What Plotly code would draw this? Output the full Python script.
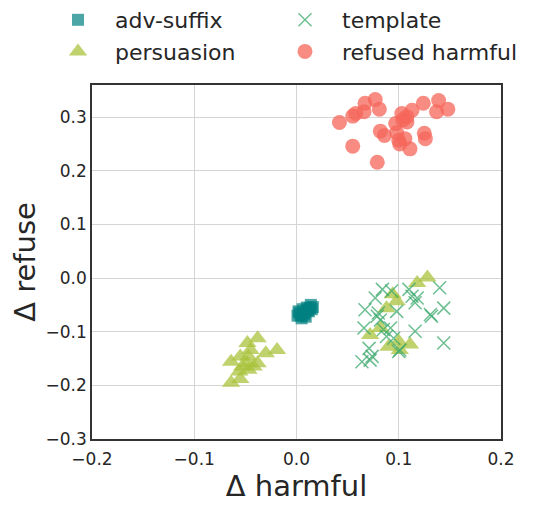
import plotly.graph_objects as go

# values
adv_suffix_x = [0.002, 0.004, 0.006, 0.008, 0.010, 0.012, 0.014, 0.016, 0.005,
                0.009, 0.011, 0.003, 0.015, 0.007, 0.013, 0.001]
adv_suffix_y = [-0.062, -0.070, -0.058, -0.066, -0.055, -0.062, -0.050, -0.054,
                -0.075, -0.072, -0.060, -0.065, -0.058, -0.068, -0.056, -0.070]

persuasion_x = [-0.038, -0.048, -0.019, -0.030, -0.045, -0.055, -0.064, -0.047,
                -0.038, -0.048, -0.053, -0.056, -0.047, -0.055, -0.064, -0.042,
                0.128, 0.118, 0.098, 0.088, 0.082, 0.072, 0.090, 0.100, 0.111,
                0.101, 0.094]
persuasion_y = [-0.112, -0.121, -0.134, -0.140, -0.134, -0.146, -0.156, -0.146,
                -0.159, -0.159, -0.165, -0.174, -0.171, -0.188, -0.195, -0.165,
                0.001, -0.009, -0.043, -0.056, -0.093, -0.106, -0.128, -0.118,
                -0.124, -0.134, -0.030]

template_x = [0.084, 0.093, 0.077, 0.067, 0.079, 0.082, 0.066, 0.092, 0.088,
              0.098, 0.110, 0.113, 0.116, 0.118, 0.140, 0.144, 0.131, 0.132,
              0.116, 0.144, 0.101, 0.071, 0.074, 0.064, 0.072, 0.095, 0.085,
              0.100, 0.080]
template_y = [-0.021, -0.024, -0.037, -0.059, -0.071, -0.078, -0.093, -0.093,
              -0.109, -0.062, -0.021, -0.034, -0.046, -0.037, -0.018, -0.056,
              -0.068, -0.071, -0.099, -0.121, -0.134, -0.131, -0.146, -0.156,
              -0.153, -0.112, -0.096, -0.137, -0.065]

refused_x = [0.042, 0.055, 0.058, 0.066, 0.067, 0.077, 0.081, 0.055, 0.079,
             0.086, 0.097, 0.098, 0.103, 0.108, 0.113, 0.100, 0.106, 0.101,
             0.111, 0.124, 0.125, 0.126, 0.139, 0.137, 0.148, 0.108, 0.104,
             0.082]
refused_y = [0.290, 0.302, 0.307, 0.310, 0.326, 0.333, 0.315, 0.246, 0.216,
             0.266, 0.288, 0.271, 0.307, 0.301, 0.313, 0.257, 0.260, 0.250,
             0.241, 0.326, 0.270, 0.260, 0.331, 0.310, 0.315, 0.291, 0.295,
             0.274]

x_ticks = [-0.2, -0.1, 0.0, 0.1, 0.2]
y_ticks = [-0.3, -0.2, -0.1, 0.0, 0.1, 0.2, 0.3]


def tick_text(vals):
    return [f"{v:.1f}".replace("-", "\u2212") for v in vals]


FONT = "DejaVu Sans"
# page body has an 8px margin, so the figure is a bit smaller than the window
W, H = 537, 497
ML, MR, MT, MB = 84, 44, 77, 66
PW, PH = W - ML - MR, H - MT - MB
LEG_TOP = -9  # legend box top, px from the figure top

fig = go.Figure()
fig.add_trace(go.Scatter(
    x=adv_suffix_x, y=adv_suffix_y, mode="markers", name="adv-suffix",
    legend="legend",
    marker=dict(symbol="square", size=12, color="#008080", opacity=0.7,
                line=dict(width=0)),
))
fig.add_trace(go.Scatter(
    x=persuasion_x, y=persuasion_y, mode="markers", name="persuasion",
    legend="legend",
    marker=dict(symbol="triangle-up", size=16, color="rgb(170,195,60)",
                opacity=0.75, line=dict(width=0)),
))
fig.add_trace(go.Scatter(
    x=template_x, y=template_y, mode="markers", name="template",
    legend="legend2",
    marker=dict(symbol="x-thin-open", size=13, color="rgba(60,170,110,0.75)",
                line=dict(width=1.5, color="rgba(60,170,110,0.75)")),
))
fig.add_trace(go.Scatter(
    x=refused_x, y=refused_y, mode="markers", name="refused harmful",
    legend="legend2",
    marker=dict(symbol="circle", size=15, color="rgb(245,102,90)",
                opacity=0.75, line=dict(width=0)),
))

legend_style = dict(
    orientation="v", xanchor="left", yanchor="top",
    y=1 + (MT - LEG_TOP) / PH,
    font=dict(family=FONT, size=22, color="#262626"),
    bgcolor="rgba(0,0,0,0)", itemwidth=64, tracegroupgap=0,
)
axis_style = dict(
    showgrid=True, gridcolor="#d5d5d5", gridwidth=1,
    zeroline=False, showline=True, linecolor="#333333", linewidth=1.5,
    mirror=True, ticks="",
    tickfont=dict(family=FONT, size=17, color="#262626"),
)

fig.update_layout(
    width=W, height=H,
    margin=dict(l=ML, r=MR, t=MT, b=MB, autoexpand=False),
    paper_bgcolor="white", plot_bgcolor="white",
    font=dict(family=FONT, color="#262626"),
    legend=dict(x=(33 - ML) / PW, **legend_style),
    legend2=dict(x=(260 - ML) / PW, **legend_style),
    xaxis=dict(range=[-0.2, 0.2], tickvals=x_ticks, ticktext=tick_text(x_ticks),
               ticklabelstandoff=4,
               title=dict(text="Δ harmful", font=dict(family=FONT, size=29),
                          standoff=2),
               **axis_style),
    yaxis=dict(range=[-0.3, 0.36], tickvals=y_ticks, ticktext=tick_text(y_ticks),
               title=dict(text="Δ refuse", font=dict(family=FONT, size=29),
                          standoff=15),
               **axis_style),
)

fig.write_html("out.html")
